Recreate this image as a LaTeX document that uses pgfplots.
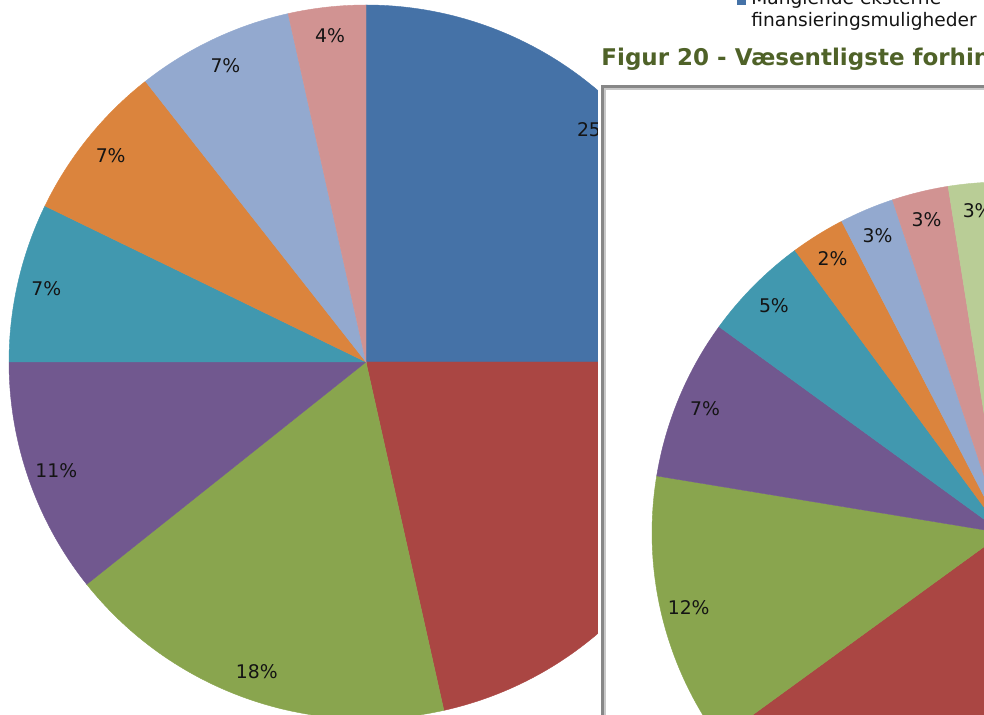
\documentclass[border=0pt]{standalone}
\usepackage{fontspec}
\setmainfont{DejaVu Sans}
\usepackage{pgfplots}
\usepackage{pgfplotstable}
\pgfplotsset{compat=1.18}
\definecolor{cA}{RGB}{69,114,167}
\definecolor{cB}{RGB}{170,70,67}
\definecolor{cC}{RGB}{137,165,78}
\definecolor{cD}{RGB}{113,88,143}
\definecolor{cE}{RGB}{65,152,175}
\definecolor{cF}{RGB}{219,132,61}
\definecolor{cG}{RGB}{147,169,207}
\definecolor{cH}{RGB}{209,147,146}
\definecolor{cI}{RGB}{185,205,150}
\definecolor{titlecol}{RGB}{79,98,40}
\definecolor{fgray}{RGB}{135,135,135}
\definecolor{fgrayl}{RGB}{200,200,200}
\definecolor{labcol}{RGB}{20,20,20}

% left pie (share, %)
\pgfplotstableread{
v col lab
25.0 cA 25
21.5 cB 21
17.8 cC 18
10.7 cD 11
7.2 cE 7
7.2 cF 7
7.1 cG 7
3.5 cH 4
}\pieA

% right pie (Figur 20, share, %)
\pgfplotstableread{
v col lab
35.0 cA 35
30.0 cB 30
12.6 cC 12
7.4 cD 7
4.9 cE 5
2.5 cF 2
2.5 cG 3
2.6 cH 3
2.5 cI 3
}\pieB

\newcommand\labfont{\fontsize{9.4pt}{11pt}\selectfont}

\newcommand\drawpie[4]{%
  \pgfplotstablegetrowsof{#1}\let\nrows\pgfplotsretval
  \pgfmathtruncatemacro\lastrow{\nrows-1}%
  \gdef\startang{90}%
  \pgfplotsforeachungrouped \i in {0,...,\lastrow}{%
    \pgfplotstablegetelem{\i}{v}\of#1\let\val\pgfplotsretval
    \pgfplotstablegetelem{\i}{col}\of#1\let\colr\pgfplotsretval
    \pgfmathsetmacro\endang{\startang-3.6*\val}%
    \edef\temp{\noexpand\fill[fill=\colr, draw=\colr, line width=0.2pt] (axis cs:#2,#3) -- ++(\startang:#4pt) arc[start angle=\startang, end angle=\endang, radius=#4pt] -- cycle;}%
    \temp
    \xdef\startang{\endang}%
  }%
}
\newcommand\labelpie[4]{%
  \pgfplotstablegetrowsof{#1}\let\nrows\pgfplotsretval
  \pgfmathtruncatemacro\lastrow{\nrows-1}%
  \gdef\startang{90}%
  \pgfplotsforeachungrouped \i in {0,...,\lastrow}{%
    \pgfplotstablegetelem{\i}{v}\of#1\let\val\pgfplotsretval
    \pgfplotstablegetelem{\i}{lab}\of#1\let\lab\pgfplotsretval
    \pgfmathsetmacro\endang{\startang-3.6*\val}%
    \pgfmathsetmacro\midang{\startang-1.8*\val}%
    \edef\temp{\noexpand\path (axis cs:#2,#3) ++(\midang:#4pt) node[text=labcol, font=\noexpand\labfont, inner sep=0pt] {\lab\noexpand\%};}%
    \temp
    \xdef\startang{\endang}%
  }%
}

\begin{document}
\begin{tikzpicture}
\useasboundingbox (0,0) rectangle (492pt,357.5pt);
\clip (0,0) rectangle (492pt,357.5pt);
\begin{axis}[at={(0,0)}, anchor=south west, x=0.5pt, y=0.5pt,
  xmin=0, xmax=984, ymin=0, ymax=715, hide axis, clip=false]
\drawpie{\pieA}{366}{353}{178.5}
\labelpie{\pieA}{366}{353}{164}
\fill[white] (axis cs:598,-10) rectangle (axis cs:1000,636);
\draw[fgray, line width=1.5pt] (axis cs:602.5,-10) -- (axis cs:602.5,628.5) -- (axis cs:1000,628.5);
\draw[fgrayl, line width=1pt] (axis cs:605,-10) -- (axis cs:605,626) -- (axis cs:1000,626);
\drawpie{\pieB}{1003}{182}{175.5}
\labelpie{\pieB}{1003}{182}{161.5}
\node[anchor=base west, inner sep=0pt, text=titlecol, font=\fontsize{11.5pt}{14pt}\selectfont\bfseries] at (axis cs:601,649) {Figur 20 - Væsentligste forhindringer};
\fill[cA] (axis cs:737,710) rectangle (axis cs:746,719);
\node[anchor=base west, inner sep=0pt, text=labcol, font=\fontsize{9.3pt}{11pt}\selectfont] at (axis cs:751,710) {Manglende eksterne};
\node[anchor=base west, inner sep=0pt, text=labcol, font=\fontsize{9.3pt}{11pt}\selectfont] at (axis cs:751,688) {finansieringsmuligheder};
\end{axis}
\end{tikzpicture}
\end{document}
